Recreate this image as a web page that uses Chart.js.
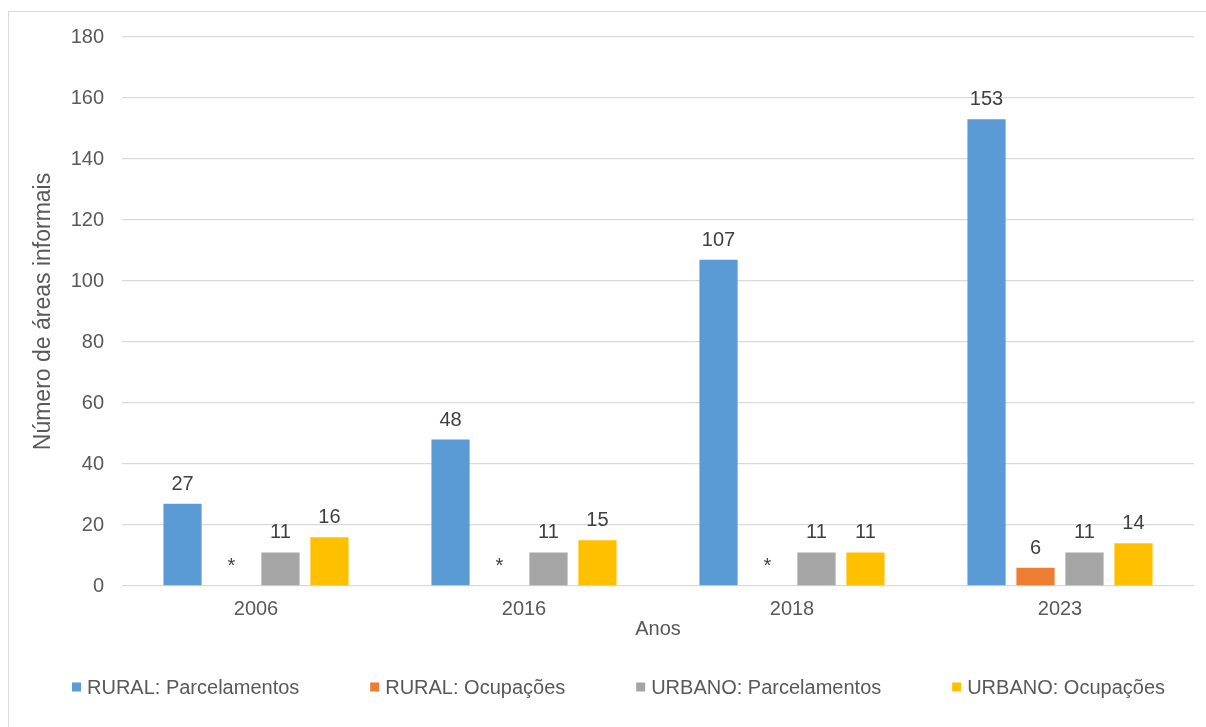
<!DOCTYPE html>
<html>
<head>
<meta charset="utf-8">
<script src="https://cdn.jsdelivr.net/npm/chart.js@4/dist/chart.umd.min.js"></script>
<style>
  html, body { margin: 0; padding: 0; background: #fff; overflow: hidden; }
  #frame { position: absolute; left: 8px; top: 11px; width: 1240px; height: 760px;
           border: 1px solid #d9d9d9; box-sizing: border-box; }
  #wrap { position: absolute; left: 0; top: 0; width: 1206px; height: 727px; }
</style>
</head>
<body>
<div id="frame"></div>
<div id="wrap"><canvas id="chart" width="1206" height="727"></canvas></div>
<script>
// Número de áreas informais por ano e tipo
const anos = ['2006', '2016', '2018', '2023'];
const ruralParcelamentos = [27, 48, 107, 153];
const ruralOcupacoes = [null, null, null, 6];      // sem dado: marcado com "*"
const urbanoParcelamentos = [11, 11, 11, 11];
const urbanoOcupacoes = [16, 15, 11, 14];

const serieNomes = ['RURAL: Parcelamentos', 'RURAL: Ocupações', 'URBANO: Parcelamentos', 'URBANO: Ocupações'];
const serieCores = ['#5B9BD5', '#ED7D31', '#A5A5A5', '#FFC000'];
const yMin = 0, yMax = 180, yPasso = 20;

const FONT = '"Liberation Sans", Arial, sans-serif';
const TXT = '#595959';

// Rótulos de valor acima das barras; "*" quando não há dado
const valueLabels = {
  id: 'valueLabels',
  afterDatasetsDraw(chart) {
    const ctx = chart.ctx;
    const y0 = chart.scales.y.getPixelForValue(0);
    ctx.save();
    ctx.fillStyle = '#404040';
    ctx.textAlign = 'center';
    ctx.textBaseline = 'alphabetic';
    ctx.font = '20px ' + FONT;
    chart.data.datasets.forEach((ds, di) => {
      const meta = chart.getDatasetMeta(di);
      meta.data.forEach((bar, i) => {
        const v = ds.data[i];
        if (v === null || v === undefined) {
          ctx.fillText('*', bar.x, y0 - 14);
        } else {
          ctx.fillText(String(v), bar.x, bar.y - 14);
        }
      });
    });
    ctx.restore();
  }
};

// Legenda inferior com marcadores quadrados
const bottomLegend = {
  id: 'bottomLegend',
  afterDraw(chart) {
    const ctx = chart.ctx;
    ctx.save();
    ctx.font = '20px ' + FONT;
    ctx.textBaseline = 'middle';
    ctx.textAlign = 'left';
    const box = 9, gapText = 6;
    const items = chart.data.datasets.map(ds => ({
      label: ds.label, color: ds.backgroundColor, w: box + gapText + ctx.measureText(ds.label).width
    }));
    const startX = 72, endX = 1165;
    const total = items.reduce((s, it) => s + it.w, 0);
    const gap = (endX - startX - total) / (items.length - 1);
    const yc = 687;
    let x = startX;
    items.forEach(it => {
      ctx.fillStyle = it.color;
      ctx.fillRect(x, yc - box / 2, box, box);
      ctx.fillStyle = TXT;
      ctx.fillText(it.label, x + box + gapText, yc + 1);
      x += it.w + gap;
    });
    ctx.restore();
  }
};

const seriesData = [ruralParcelamentos, ruralOcupacoes, urbanoParcelamentos, urbanoOcupacoes];

new Chart(document.getElementById('chart'), {
  type: 'bar',
  data: {
    labels: anos,
    datasets: seriesData.map((d, i) => ({
      label: serieNomes[i],
      data: d,
      backgroundColor: serieCores[i],
      borderWidth: 0,
      categoryPercentage: 0.731,
      barPercentage: 0.78
    }))
  },
  options: {
    responsive: false,
    animation: false,
    devicePixelRatio: 1,
    layout: { padding: { left: 30, right: 12, top: 37, bottom: 86 } },
    plugins: {
      legend: { display: false },
      tooltip: { enabled: false }
    },
    scales: {
      x: {
        grid: { display: false, drawTicks: false },
        border: { display: false },
        ticks: { color: TXT, font: { family: FONT, size: 20 }, padding: 11 },
        title: { display: true, text: 'Anos', color: TXT, font: { family: FONT, size: 20 }, padding: 0 },
        afterFit(s) { s.height = 55; }
      },
      y: {
        min: yMin, max: yMax,
        grid: { color: '#d9d9d9', lineWidth: 1.3, drawTicks: false },
        border: { display: false },
        ticks: { stepSize: yPasso, color: TXT, font: { family: FONT, size: 20 }, padding: 18 },
        title: { display: true, text: 'Número de áreas informais', color: TXT, font: { family: FONT, size: 23 }, padding: 0 },
        afterFit(s) { s.width = 92; }
      }
    }
  },
  plugins: [valueLabels, bottomLegend]
});
</script>
</body>
</html>
